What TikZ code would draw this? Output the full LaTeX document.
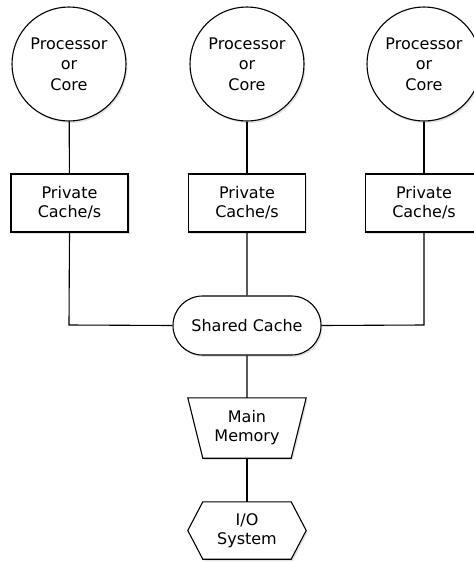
\documentclass[tikz,border=0pt]{standalone}
\usepackage{fontspec}
\setmainfont{DejaVu Sans}
\usetikzlibrary{shapes.misc,shadows,backgrounds}
\begin{document}
\begin{tikzpicture}[x=1pt,y=-1pt,
  every node/.style={font=\fontsize{16}{19}\selectfont, align=center, inner sep=0pt},
  boxfx/.style={fill=white, draw=black, line width=1.1pt,
    drop shadow={opacity=0.22, shadow xshift=1.5pt, shadow yshift=-2pt}},
  cpu/.style={boxfx, shape=circle, minimum size=114pt, font=\fontsize{16}{20.5}\selectfont},
  privbox/.style={boxfx, shape=rectangle, minimum width=117pt, minimum height=58pt},
  shared/.style={boxfx, shape=rounded rectangle, minimum width=148pt, minimum height=59pt},
  plainbox/.style={shape=rectangle, minimum width=118pt},
  link/.style={draw=black, line width=1.1pt}]
\useasboundingbox (0,0) rectangle (474,563);
\clip (0,0) rectangle (474,563);

% corners where the outer caches turn towards the shared cache
\coordinate (j1) at (69,325);
\coordinate (j3) at (424,325);

\node[cpu] (p1) at (69,64) {Processor\\or\\Core};
\node[cpu] (p2) at (247,64) {Processor\\or\\Core};
\node[cpu] (p3) at (424,64) {Processor\\or\\Core};

\node[privbox] (c1) at (69.5,203) {Private\\Cache/s};
\node[privbox] (c2) at (247,203) {Private\\Cache/s};
\node[privbox] (c3) at (424,203) {Private\\Cache/s};

\node[shared] (sc) at (247,325.5) {Shared Cache};
\node[plainbox, minimum height=60pt] (mm) at (247,428) {Main\\Memory};
\node[plainbox, minimum height=57pt] (io) at (247,530.5) {I/O\\System};

% outlines of the memory trapezoid and the I/O hexagon, behind their text
\begin{scope}[on background layer]
  \path[boxfx] (mm.north west) -- (mm.north east)
    -- ([xshift=-15pt]mm.south east) -- ([xshift=15pt]mm.south west) -- cycle;
  \path[boxfx] (io.west) -- ([xshift=15pt]io.north west)
    -- ([xshift=-15pt]io.north east) -- (io.east)
    -- ([xshift=-15pt]io.south east) -- ([xshift=15pt]io.south west) -- cycle;
\end{scope}

\draw[link] (p1) -- (c1);
\draw[link] (p2) -- (c2);
\draw[link] (p3) -- (c3);
\draw[link] (c1.south) -- (j1) -- (sc.west);
\draw[link] (c3.south) -- (j3) -- (sc.east);
\draw[link] (c2) -- (sc);
\draw[link] (sc) -- (mm);
\draw[link] (mm) -- (io);
\end{tikzpicture}
\end{document}
